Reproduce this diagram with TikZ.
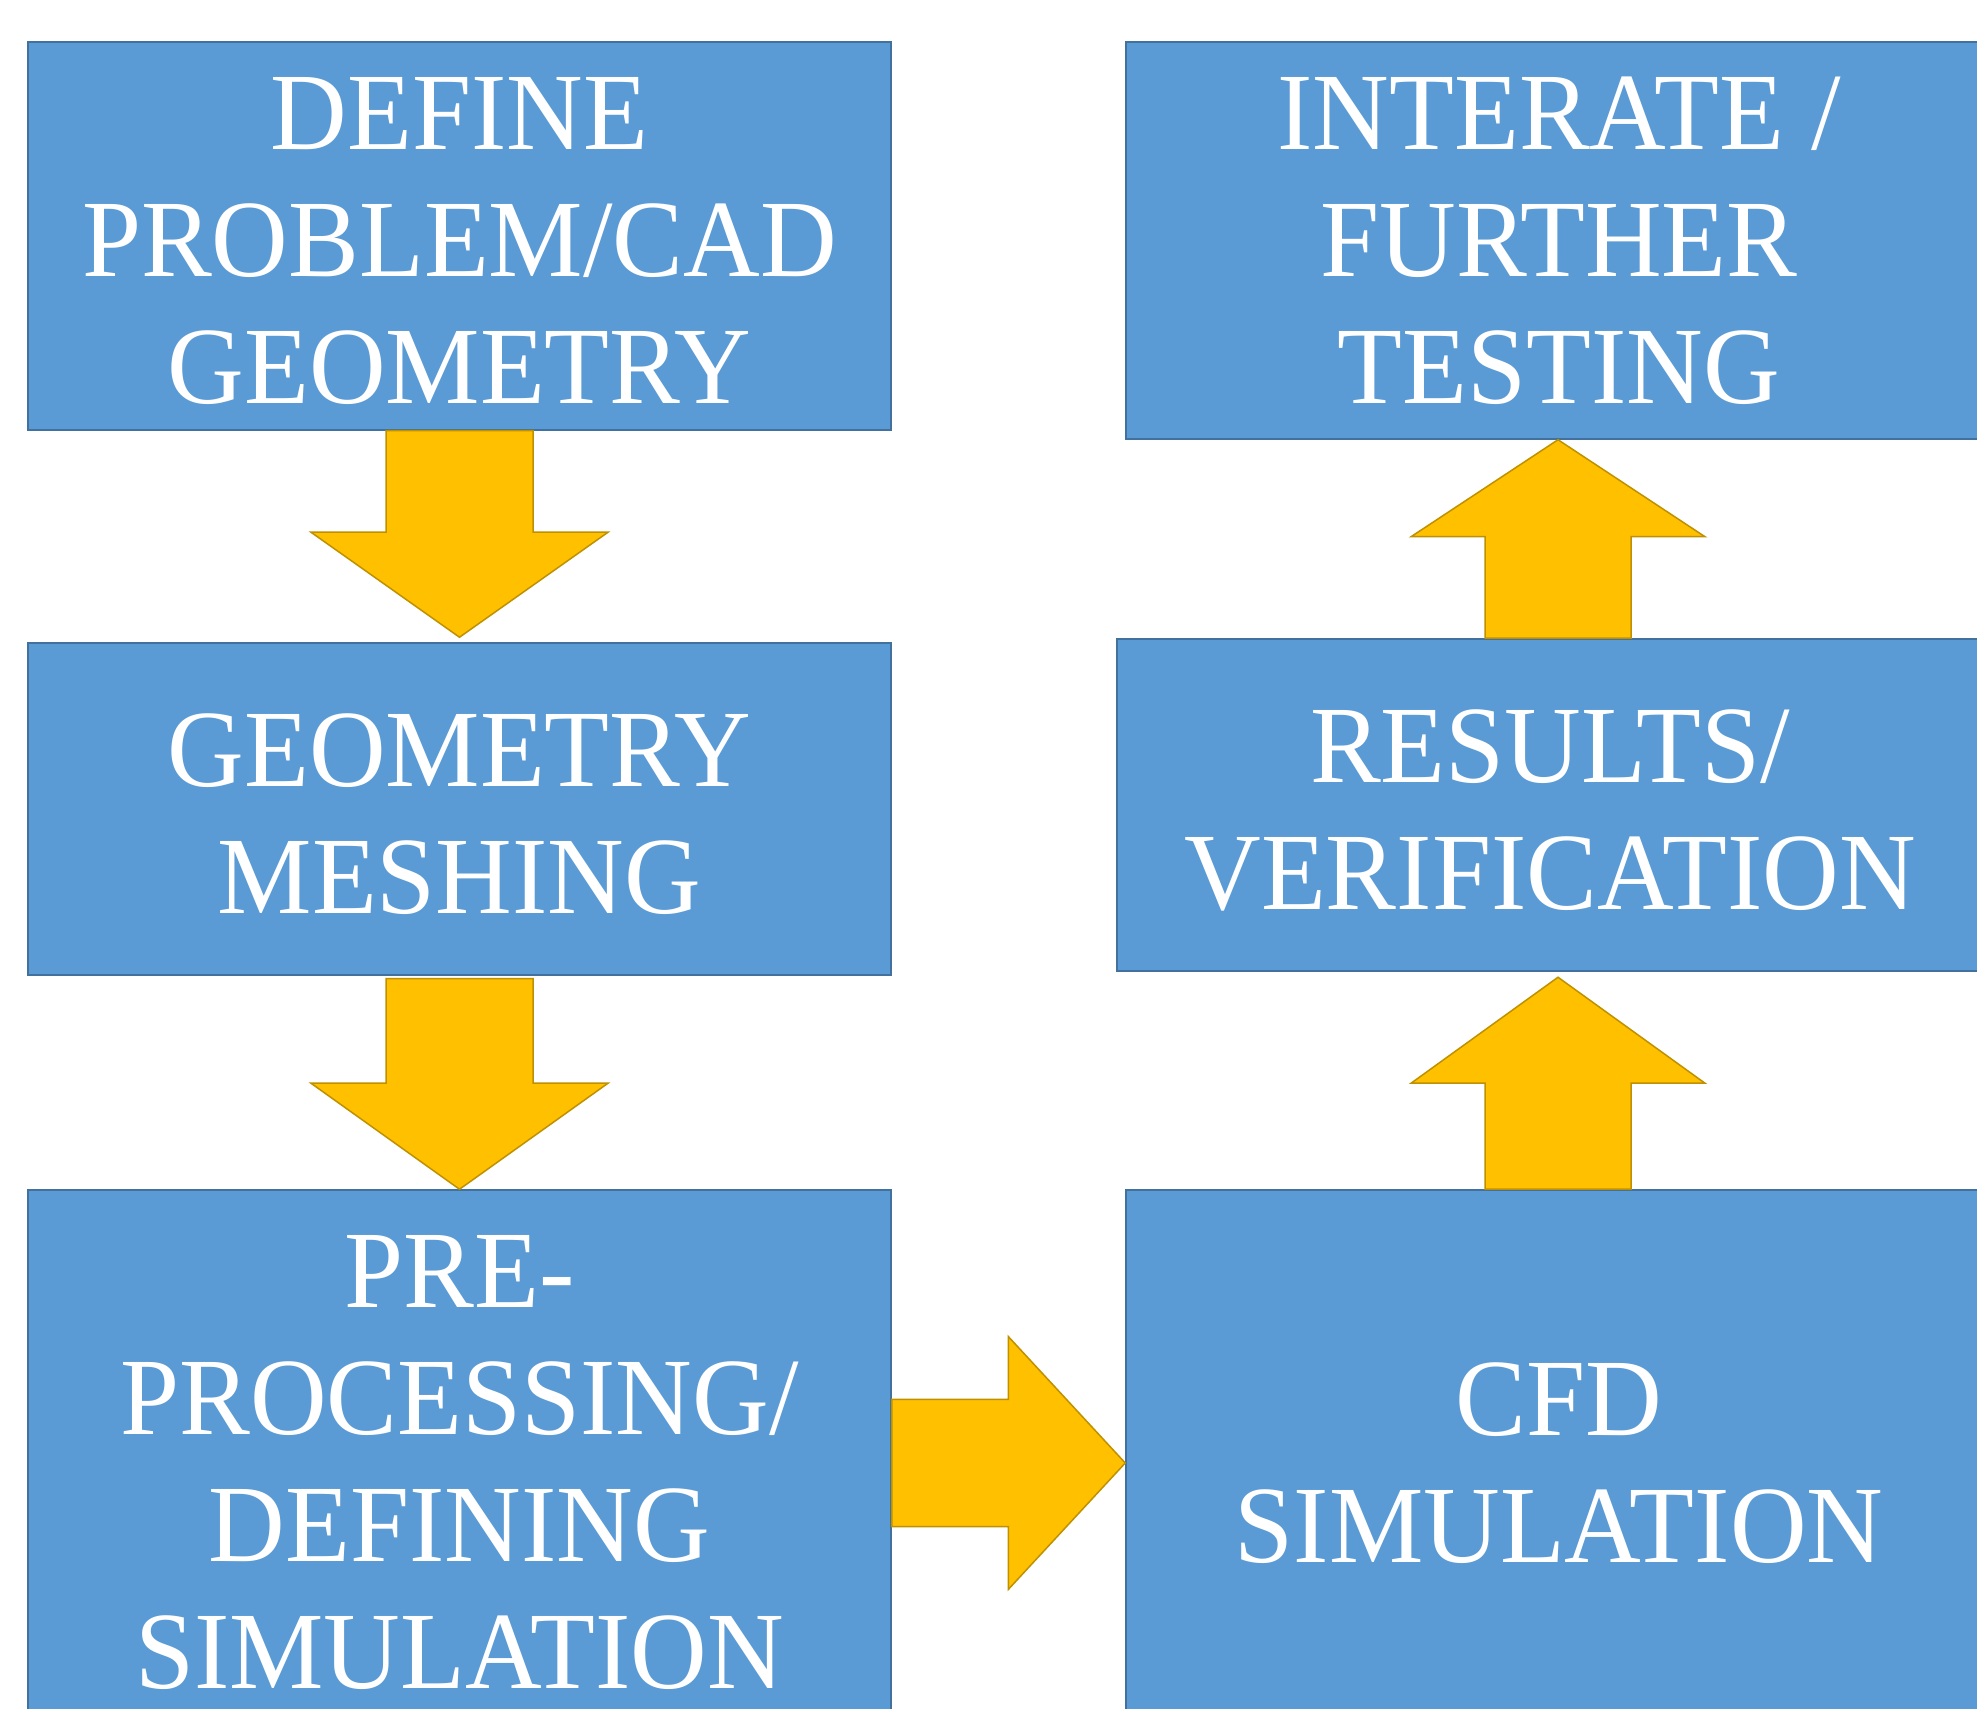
\documentclass[tikz,border=0pt]{standalone}
\usepackage{fontspec}
\setmainfont{Liberation Serif}[FakeStretch=0.965]
\usetikzlibrary{calc}
\definecolor{boxfill}{HTML}{5B9BD5}
\definecolor{boxline}{HTML}{41719C}
\definecolor{arrfill}{HTML}{FFC000}
\definecolor{arrline}{HTML}{BF9000}
\newcommand{\dropstrut}{\rule{0pt}{83pt}}
\tikzset{
  stepbox/.style={draw=boxline, fill=boxfill, line width=1.5pt, inner sep=0pt,
    align=center, text=white, font=\fontsize{110}{127}\selectfont},
  fat/.style={draw=arrline, fill=arrfill, line width=1.5pt, line join=miter}
}
\begin{document}
\begin{tikzpicture}[x=1pt,y=1pt]
\useasboundingbox (0,0) rectangle (1977,1708);
\clip (0,0) rectangle (1977,1708);
% boxes (y = 1708 - pixel row)
\node[stepbox, minimum width=863pt, minimum height=388pt] (b1) at (459.5,1472) {\dropstrut DEFINE\\PROBLEM/CAD\\GEOMETRY};
\node[stepbox, minimum width=863pt, minimum height=332pt] (b2) at (459.5,899) {\dropstrut GEOMETRY\\MESHING};
\node[stepbox, minimum width=863pt, minimum height=546pt] (b3) at (459.5,245) {PRE-\\PROCESSING/\\DEFINING\\SIMULATION};
\node[stepbox, minimum width=866pt, minimum height=397pt] (b4) at (1559,1467.5) {INTERATE /\\FURTHER\\TESTING};
\node[stepbox, minimum width=866pt, minimum height=332pt] (b5) at (1550,903) {\dropstrut RESULTS/\\VERIFICATION};
\node[stepbox, minimum width=866pt, minimum height=546pt] (b6) at (1559,245) {CFD\\SIMULATION};
% arrow b1 -> b2
\draw[fat] ($(b2.north)+(0,5)$) coordinate (t1)
  -- ($(t1)+(148.5,105)$) -- ($(t1)+(73.5,105)$)
  -- ($(b1.south)+(73.5,0)$) -- ($(b1.south)+(-73.5,0)$)
  -- ($(t1)+(-73.5,105)$) -- ($(t1)+(-148.5,105)$) -- cycle;
% arrow b2 -> b3
\draw[fat] (b3.north) coordinate (t2)
  -- ($(t2)+(148.5,106)$) -- ($(t2)+(73.5,106)$)
  -- ($(b2.south)+(73.5,-3)$) -- ($(b2.south)+(-73.5,-3)$)
  -- ($(t2)+(-73.5,106)$) -- ($(t2)+(-148.5,106)$) -- cycle;
% arrow b3 -> b6
\draw[fat] (b6.west) coordinate (t3)
  -- ($(t3)+(-117,126.5)$) -- ($(t3)+(-117,63.5)$)
  -- ($(b3.east)+(0,63.5)$) -- ($(b3.east)+(0,-63.5)$)
  -- ($(t3)+(-117,-63.5)$) -- ($(t3)+(-117,-126.5)$) -- cycle;
% arrow b6 -> b5
\draw[fat] ($(b6.north)+(-1,212)$) coordinate (t4)
  -- ($(t4)+(147,-106)$) -- ($(t4)+(73,-106)$)
  -- ($(b6.north)+(72,0)$) -- ($(b6.north)+(-74,0)$)
  -- ($(t4)+(-73,-106)$) -- ($(t4)+(-147,-106)$) -- cycle;
% arrow b5 -> b4
\draw[fat] ($(b4.south)+(-1,0)$) coordinate (t5)
  -- ($(t5)+(147,-97)$) -- ($(t5)+(73,-97)$)
  -- ($(b5.north)+(81,0)$) -- ($(b5.north)+(-65,0)$)
  -- ($(t5)+(-73,-97)$) -- ($(t5)+(-147,-97)$) -- cycle;
\end{tikzpicture}
\end{document}
